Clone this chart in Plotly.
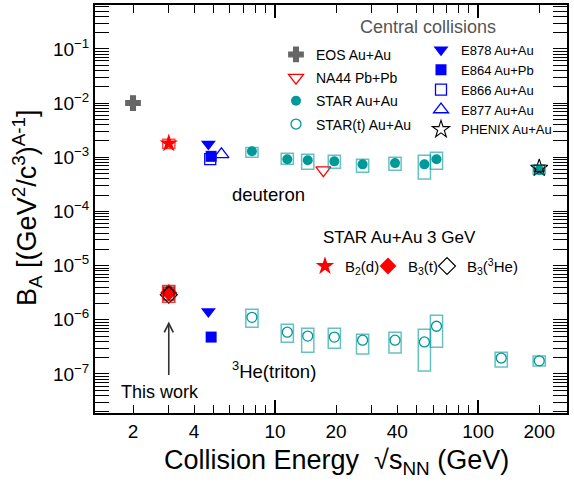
import numpy as np
import plotly.graph_objects as go

FONT = "Liberation Sans, Arial, sans-serif"
TEAL = "#009999"
TEAL_BOX = "rgba(0,153,153,0.6)"

# ---------------- data ----------------
star_d_energy = [7.7, 11.5, 14.5, 19.6, 27, 39, 54.4, 62.4, 200]
star_d_val = [1.29e-3, 0.92e-3, 0.88e-3, 0.84e-3, 0.74e-3, 0.78e-3, 0.74e-3, 0.92e-3, 0.58e-3]
star_d_lo = [1.00e-3, 0.745e-3, 0.60e-3, 0.628e-3, 0.53e-3, 0.577e-3, 0.395e-3, 0.60e-3, 0.49e-3]
star_d_hi = [1.52e-3, 1.18e-3, 1.135e-3, 1.088e-3, 0.92e-3, 1.00e-3, 1.088e-3, 1.235e-3, 0.72e-3]

star_t_energy = [7.7, 11.5, 14.5, 19.6, 27, 39, 54.4, 62.4, 130, 200]
star_t_val = [1.11e-6, 5.9e-7, 5.0e-7, 4.8e-7, 4.2e-7, 4.2e-7, 3.9e-7, 7.6e-7, 1.97e-7, 1.75e-7]
star_t_lo = [7.3e-7, 3.86e-7, 2.53e-7, 3.0e-7, 2.33e-7, 2.43e-7, 1.135e-7, 3.13e-7, 1.34e-7, 1.40e-7]
star_t_hi = [1.56e-6, 8.26e-7, 6.98e-7, 6.98e-7, 5.42e-7, 5.9e-7, 6.7e-7, 1.21e-6, 2.53e-7, 2.14e-7]

eos_energy = [2.0]
eos_val = [1.0e-2]
na44_energy = [17.3]
na44_val = [0.58e-3]
e878_energy = [4.7, 4.7]
e878_val = [1.75e-3, 1.43e-6]
e864_energy = [4.85, 4.85]
e864_val = [1.04e-3, 4.8e-7]
e866_energy = [4.8]
e866_val = [0.92e-3]
e877_energy = [5.45]
e877_val = [1.13e-3]
phenix_energy = [200]
phenix_val = [0.63e-3]
phenix_lo = [0.55e-3]
phenix_hi = [0.72e-3]

this_energy = [3.0]
b2_d = [1.8e-3]
b2_d_lo = [1.45e-3]
b2_d_hi = [2.15e-3]
b3_t = [3.2e-6]
b3_t_lo = [2.1e-6]
b3_t_hi = [4.3e-6]
b3_he3 = [2.9e-6]
b3_he3_lo = [2.3e-6]
b3_he3_hi = [4.0e-6]

x_tick_vals = [2, 4, 10, 20, 40, 100, 200]
x_tick_text = ["2", "4", "10", "20", "40", "100", "200"]
x_minor_vals = [3, 5, 6, 7, 8, 9, 30, 50, 60, 70, 80, 90]
x_long_vals = [10, 100]
y_exponents = [-7, -6, -5, -4, -3, -2, -1]

# ---------------- figure ----------------
fig = go.Figure()

def add(x, y, name, symbol, color, size, legend, group, lw=1.3, show=True):
    fig.add_trace(go.Scatter(
        x=x, y=y, mode="markers", name=name, legend=legend, legendgroup=group,
        showlegend=show,
        marker=dict(symbol=symbol, color=color, size=size,
                    line=dict(color=color, width=lw)),
    ))

add(eos_energy, eos_val, "EOS Au+Au", "cross", "#666666", 12, "legend", "g1")
add(na44_energy, na44_val, "NA44 Pb+Pb", "triangle-down-open", "red", 13, "legend", "g2")
add(star_d_energy, star_d_val, "STAR Au+Au", "circle", TEAL, 10, "legend", "g3", lw=0)
add(star_t_energy, star_t_val, "STAR(t) Au+Au", "circle-open", TEAL, 10, "legend", "g4")

add(e878_energy, e878_val, "E878 Au+Au", "triangle-down", "blue", 13, "legend2", None, lw=0)
add(e864_energy, e864_val, "E864 Au+Pb", "square", "blue", 11, "legend2", None, lw=0)
add(e866_energy, e866_val, "E866 Au+Au", "square-open", "blue", 11, "legend2", None)
add(e877_energy, e877_val, "E877 Au+Au", "triangle-up-open", "blue", 13, "legend2", None)
add(phenix_energy, phenix_val, "PHENIX Au+Au", "star-open", "black", 13, "legend2", None, lw=1.1)

add(this_energy, b2_d, "B<sub>2</sub>(d)", "star", "red", 14, "legend3", None, lw=0)
add(this_energy, b3_t, "B<sub>3</sub>(t)", "diamond", "red", 13, "legend4", None, lw=0)
add(this_energy, b3_he3, "B<sub>3</sub>(<sup>3</sup>He)", "diamond-open", "black", 13, "legend5", None, lw=1.2)

# empty trace so the overlay axis (long ticks at 10, 100) exists
fig.add_trace(go.Scatter(x=[], y=[], xaxis="x2", showlegend=False, mode="markers"))

# systematic boxes (half-width expressed as a constant log10 factor)
def boxes(xs, lo, hi, color, half_dec=0.03, width=1.5):
    f = 10 ** half_dec
    for x, a, b in zip(xs, lo, hi):
        fig.add_shape(type="rect", xref="x", yref="y",
                      x0=x / f, x1=x * f, y0=a, y1=b,
                      line=dict(color=color, width=width), layer="above")

boxes(star_d_energy, star_d_lo, star_d_hi, TEAL_BOX)
boxes(star_t_energy, star_t_lo, star_t_hi, TEAL_BOX)
boxes(phenix_energy, phenix_lo, phenix_hi, "rgba(0,0,0,0.7)", half_dec=0.025, width=1.2)
boxes(this_energy, b2_d_lo, b2_d_hi, "rgba(255,0,0,0.7)")
boxes(this_energy, b3_t_lo, b3_t_hi, "rgba(255,0,0,0.8)")
boxes(this_energy, b3_he3_lo, b3_he3_hi, "rgba(0,0,0,0.7)", half_dec=0.025, width=1.2)

xr = [np.log10(1.3), np.log10(274)]
yr = [-7.72, -0.19]

def px_x(p):
    return (p - 95) / 472

def px_y(p):
    return (413 - p) / 410

single = dict(xanchor="left", yanchor="top", bgcolor="rgba(0,0,0,0)",
              font=dict(size=15, family=FONT), itemsizing="trace")

fig.update_layout(
    width=574, height=484,
    margin=dict(l=95, r=7, t=3, b=71),
    paper_bgcolor="white", plot_bgcolor="white",
    font=dict(family=FONT, color="black", size=14),
    xaxis=dict(type="log", range=xr, tickmode="array", tickvals=x_tick_vals,
               ticktext=x_tick_text, ticks="inside", ticklen=8, tickwidth=1.3,
               tickcolor="black", showline=True, linecolor="black", linewidth=2,
               mirror="allticks", showgrid=False, zeroline=False,
               tickfont=dict(size=19, family=FONT),
               minor=dict(tickmode="array", tickvals=x_minor_vals, ticks="inside",
                          ticklen=8, tickwidth=1.3, tickcolor="black", showgrid=False)),
    xaxis2=dict(type="log", range=xr, overlaying="x", anchor="y", side="bottom",
                tickmode="array", tickvals=x_long_vals, ticks="inside", ticklen=13,
                tickwidth=1.5, tickcolor="black", showticklabels=False, mirror="ticks",
                showgrid=False, zeroline=False, showline=False),
    yaxis=dict(type="log", range=yr, tickmode="array",
               tickvals=[10.0 ** e for e in y_exponents],
               ticktext=["10<sup>\u2212%d</sup>" % (-e) for e in y_exponents],
               ticks="inside", ticklen=14, tickwidth=1.3, tickcolor="black",
               showline=True, linecolor="black", linewidth=2, mirror="allticks",
               showgrid=False, zeroline=False, tickfont=dict(size=19, family=FONT),
               minor=dict(tickmode="array",
                          tickvals=[k * 10.0 ** e for e in range(-8, 0) for k in range(2, 10)],
                          ticks="inside", ticklen=7, tickwidth=1.1, tickcolor="black",
                          showgrid=False)),
    legend=dict(x=px_x(276), y=px_y(37), xanchor="left", yanchor="top",
                bgcolor="rgba(0,0,0,0)", font=dict(size=14, family=FONT),
                tracegroupgap=2, traceorder="grouped", itemsizing="trace"),
    legend2=dict(x=px_x(421), y=px_y(33), xanchor="left", yanchor="top",
                 bgcolor="rgba(0,0,0,0)", font=dict(size=13, family=FONT),
                 itemsizing="trace"),
    legend3=dict(x=px_x(305), y=px_y(249), **single),
    legend4=dict(x=px_x(368), y=px_y(249), **single),
    legend5=dict(x=px_x(427), y=px_y(249), **single),
    showlegend=True,
)

annotations = [
    dict(text="Central collisions", xref="paper", yref="paper",
         x=px_x(428), y=px_y(25), xanchor="center", yanchor="middle", showarrow=False,
         font=dict(size=18, color="#555555", family=FONT)),
    dict(text="STAR Au+Au 3 GeV", xref="paper", yref="paper",
         x=px_x(321), y=px_y(237), xanchor="left", yanchor="middle", showarrow=False,
         font=dict(size=17, family=FONT)),
    dict(text="deuteron", xref="x", yref="y", x=np.log10(6.0), y=-3.68,
         xanchor="left", yanchor="middle", showarrow=False, font=dict(size=18.5, family=FONT)),
    dict(text="<sup>3</sup>He(triton)", xref="x", yref="y", x=np.log10(6.0), y=-6.93,
         xanchor="left", yanchor="middle", showarrow=False, font=dict(size=18.5, family=FONT)),
    dict(text="This work", xref="x", yref="y", x=np.log10(2.71), y=-7.33,
         xanchor="center", yanchor="middle", showarrow=False, font=dict(size=18, family=FONT)),
    dict(text="", xref="x", yref="y", x=np.log10(3.0), y=-6.03, ax=0, ay=55,
         showarrow=True, arrowhead=5, arrowsize=1.1, arrowwidth=1.6, arrowcolor="#333333"),
    dict(text="Collision Energy  \u221As<sub>NN</sub> (GeV)", xref="paper", yref="paper",
         x=px_x(336), y=px_y(462), xanchor="center", yanchor="middle", showarrow=False,
         font=dict(size=27, family=FONT)),
    dict(text="B<sub>A</sub> [(GeV<sup>2</sup>/c<sup>3</sup>)<sup>A-1</sup>]",
         xref="paper", yref="paper", x=px_x(27), y=px_y(207), xanchor="center",
         yanchor="middle", textangle=-90, showarrow=False, font=dict(size=27, family=FONT)),
]
fig.update_layout(annotations=annotations)

fig.write_html("out.html", config={"displayModeBar": False},
               post_script="document.body.style.margin='0px';")
